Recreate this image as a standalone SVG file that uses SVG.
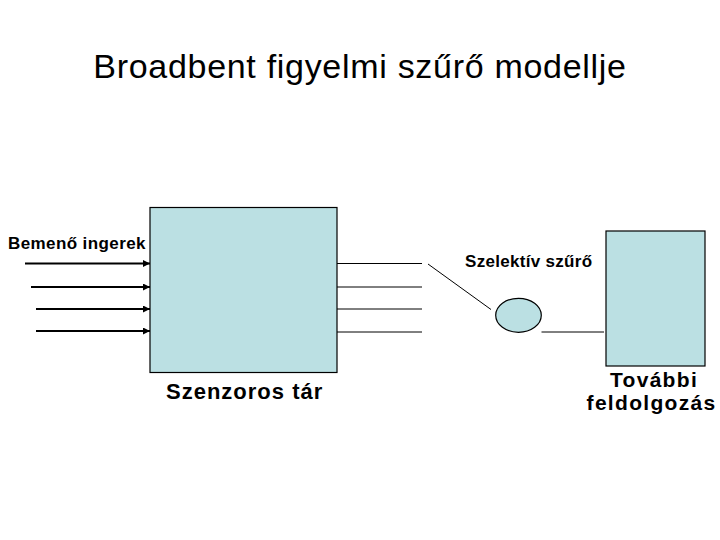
<svg xmlns="http://www.w3.org/2000/svg" width="720" height="540" viewBox="0 0 720 540">
<style>
text{font-family:"Liberation Sans",Arial,sans-serif;fill:#000}
.box{fill:#BBE0E3;stroke:#000;stroke-width:1.2}
.in{stroke:#000;stroke-width:2;fill:none}
.ln{stroke:#000;stroke-width:1;fill:none}
.lbl{font-weight:bold;font-size:21px;letter-spacing:1.3px}
</style>
<defs>
<marker id="ah" viewBox="0 0 6 6" refX="6" refY="3" markerWidth="3.5" markerHeight="3.5" orient="auto" markerUnits="strokeWidth">
<path d="M0,0 L6,3 L0,6 Z" fill="#000"/>
</marker>
</defs>
<rect width="720" height="540" fill="#fff"/>
<text id="title" x="360" y="78" font-size="34" text-anchor="middle" letter-spacing="0.7">Broadbent figyelmi szűrő modellje</text>
<g id="szenzoros">
<rect class="box" x="150" y="207.5" width="187" height="165"/>
<text x="166" y="399" font-size="22" font-weight="bold" letter-spacing="1">Szenzoros tár</text>
</g>
<g id="szuro">
<ellipse class="box" cx="518.5" cy="315.3" rx="22.8" ry="17"/>
<text x="465" y="267" font-size="17" font-weight="bold" letter-spacing="0.3">Szelektív szűrő</text>
</g>
<g id="tovabbi">
<rect class="box" x="606" y="231" width="99" height="135"/>
<text class="lbl" x="654" y="387" text-anchor="middle">További</text>
<text class="lbl" x="651.5" y="410" text-anchor="middle">feldolgozás</text>
</g>
<g id="bemeno">
<text x="8" y="249" font-size="17" font-weight="bold" letter-spacing="0.4">Bemenő ingerek</text>
</g>
<g id="connectors">
<line class="in" x1="25" y1="263.5" x2="150" y2="263.5" marker-end="url(#ah)"/>
<line class="in" x1="31" y1="287" x2="150" y2="287" marker-end="url(#ah)"/>
<line class="in" x1="36" y1="309" x2="150" y2="309" marker-end="url(#ah)"/>
<line class="in" x1="36" y1="331" x2="150" y2="331" marker-end="url(#ah)"/>
<line class="ln" x1="337" y1="263.5" x2="422" y2="263.5"/>
<line class="ln" x1="337" y1="287" x2="422" y2="287"/>
<line class="ln" x1="337" y1="309" x2="422" y2="309"/>
<line class="ln" x1="337" y1="332" x2="422" y2="332"/>
<line class="ln" x1="428" y1="264" x2="491" y2="309.5"/>
<line class="ln" x1="541.5" y1="332" x2="604" y2="332"/>
</g>
</svg>
